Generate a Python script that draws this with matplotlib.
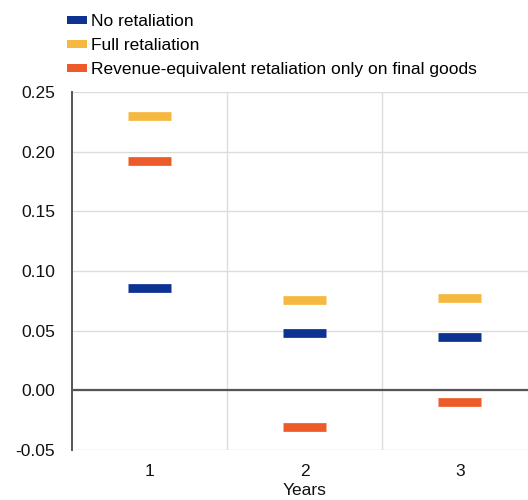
import matplotlib
matplotlib.use("Agg")
import matplotlib.pyplot as plt
from matplotlib.patches import Patch
import numpy as np

plt.rcParams['font.family'] = ['Liberation Sans', 'DejaVu Sans']

years = [1, 2, 3]
no_retaliation = [0.086, 0.048, 0.045]
full_retaliation = [0.230, 0.076, 0.077]
revenue_equiv = [0.192, -0.031, -0.010]

series_names = ["No retaliation", "Full retaliation",
                "Revenue-equivalent retaliation only on final goods"]
series_colors = ["#0c3391", "#f5b942", "#ee5b2b"]

fig = plt.figure(figsize=(5.28, 5.0), dpi=100)
ax = fig.add_axes([72 / 528, 50 / 500, 465.5 / 528, 358 / 500])

x = np.array(years)
half = 0.139
for vals, col in zip([no_retaliation, full_retaliation, revenue_equiv], series_colors):
    ax.hlines(vals, x - half, x + half, colors=col, linewidth=6.3, zorder=3)

ax.set_xlim(0.5, 3.5)
ax.set_ylim(-0.05, 0.25)
yt = np.arange(-0.05, 0.2501, 0.05)
ax.set_yticks(yt)
ax.set_yticklabels([f"{v:.2f}" for v in yt])
ax.set_xticks(years)
ax.set_xticklabels([str(y) for y in years])

# grid
for yv in yt:
    ax.axhline(yv, color="#dcdcdc", linewidth=1.0, zorder=1)
for xv in [1.5, 2.5]:
    ax.axvline(xv, color="#dcdcdc", linewidth=1.0, zorder=1)
ax.axhline(0, color="#555555", linewidth=1.6, zorder=2)

for s in ["top", "right", "bottom"]:
    ax.spines[s].set_visible(False)
ax.spines["left"].set_color("#555555")
ax.spines["left"].set_linewidth(1.4)

ax.tick_params(axis="both", length=0, labelsize=12.5, colors="#111111")
ax.tick_params(axis="y", pad=12)
ax.tick_params(axis="x", pad=10)
ax.set_xlabel("Years", fontsize=12.5, labelpad=3, color="#111111")

handles = [Patch(facecolor=c, edgecolor="none") for c in series_colors]
fig.legend(handles, series_names, loc="upper left", bbox_to_anchor=(67 / 528, 0.972),
           frameon=False, fontsize=12.5, handlelength=1.15, handleheight=0.36,
           handletextpad=0.22, labelspacing=0.52, borderpad=0, borderaxespad=0)

fig.savefig("out.png", dpi=100)
